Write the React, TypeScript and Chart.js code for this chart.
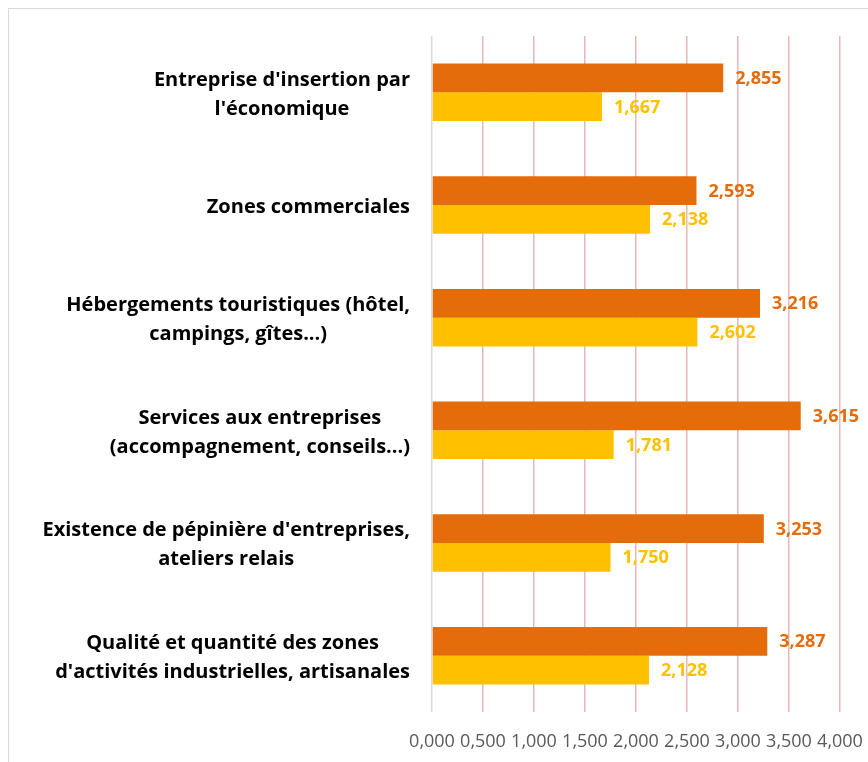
import React, { useEffect, useRef } from "react";
import { Chart, registerables } from "chart.js";
Chart.register(...registerables);

const categories: string[][] = [
  ["Entreprise d'insertion par", "l'économique"],
  ["Zones commerciales"],
  ["Hébergements touristiques (hôtel,", "campings, gîtes...)"],
  ["Services aux entreprises", "(accompagnement, conseils...)"],
  ["Existence de pépinière d'entreprises,", "ateliers relais"],
  ["Qualité et quantité des zones", "d'activités industrielles, artisanales"],
];
const seriesOrange = [2.855, 2.593, 3.216, 3.615, 3.253, 3.287];
const seriesYellow = [1.667, 2.138, 2.602, 1.781, 1.75, 2.128];
const xMin = 0;
const xMax = 4;
const xStep = 0.5;

const ORANGE = "#E46C0A";
const YELLOW = "#FFC000";
const FONT = "'Open Sans', 'Liberation Sans', sans-serif";

const fmt = (v: number) => v.toFixed(3).replace(".", ",");

const labelPlugin = {
  id: "labels",
  afterDatasetsDraw(chart: any) {
    const ctx = chart.ctx;
    ctx.save();
    ctx.font = `bold 18px ${FONT}`;
    ctx.textBaseline = "middle";
    ctx.textAlign = "left";
    chart.data.datasets.forEach((ds: any, di: number) => {
      const meta = chart.getDatasetMeta(di);
      ctx.fillStyle = ds.backgroundColor;
      meta.data.forEach((el: any, i: number) => {
        ctx.fillText(fmt(ds.data[i]), el.x + 12, el.y + 1);
      });
    });
    // category labels
    const yScale = chart.scales.y;
    const right = chart.chartArea.left - 22;
    ctx.font = `bold 20px ${FONT}`;
    ctx.fillStyle = "#000000";
    ctx.textAlign = "center";
    const lh = 29;
    categories.forEach((lines, i) => {
      const yc = yScale.getPixelForValue(i) + 2;
      const maxW = Math.max(...lines.map((l) => ctx.measureText(l).width));
      const cx = right - maxW / 2;
      lines.forEach((l, j) => {
        ctx.fillText(l, cx, yc + (j - (lines.length - 1) / 2) * lh);
      });
    });
    ctx.restore();
  },
};

export default function App() {
  const ref = useRef<HTMLCanvasElement>(null);
  useEffect(() => {
    if (!ref.current) return;
    const chart = new Chart(ref.current, {
      type: "bar",
      data: {
        labels: categories.map((c) => c.join(" ")),
        datasets: [
          { data: seriesOrange, backgroundColor: ORANGE, borderWidth: 0 },
          { data: seriesYellow, backgroundColor: YELLOW, borderWidth: 0 },
        ],
      },
      options: {
        indexAxis: "y",
        animation: false,
        responsive: false,
        devicePixelRatio: 1,
        layout: { padding: { top: 27, right: 28, bottom: 10, left: 0 } },
        datasets: { bar: { categoryPercentage: 0.51, barPercentage: 1 } },
        plugins: { legend: { display: false }, tooltip: { enabled: false } },
        scales: {
          x: {
            min: xMin,
            max: xMax,
            ticks: {
              stepSize: xStep,
              callback: (v: any) => fmt(Number(v)),
              color: "#595959",
              font: { family: FONT, size: 18 },
              padding: 19,
              maxRotation: 0,
              autoSkip: false,
            },
            grid: {
              drawTicks: false,
              color: (c: any) => (c.index === 0 ? "#D9D9D9" : "#E6B9B8"),
              lineWidth: 1.5,
            },
            border: { display: false },
            afterFit: (s: any) => {
              s.height = 40;
              s.paddingRight = 0;
              s.paddingLeft = 0;
            },
          },
          y: {
            ticks: { display: false },
            grid: { display: false },
            border: { display: false },
            afterFit: (s: any) => {
              s.width = 423;
              s.paddingTop = 0;
              s.paddingBottom = 0;
            },
          },
        },
      },
      plugins: [labelPlugin],
    });
    return () => chart.destroy();
  }, []);
  return (
    <div
      style={{
        position: "fixed",
        left: 8,
        top: 8,
        width: 860,
        height: 754,
        borderLeft: "1px solid #D9D9D9",
        borderTop: "1px solid #D9D9D9",
        background: "#fff",
      }}
    >
      <canvas ref={ref} width={859} height={753} style={{ display: "block" }} />
    </div>
  );
}
